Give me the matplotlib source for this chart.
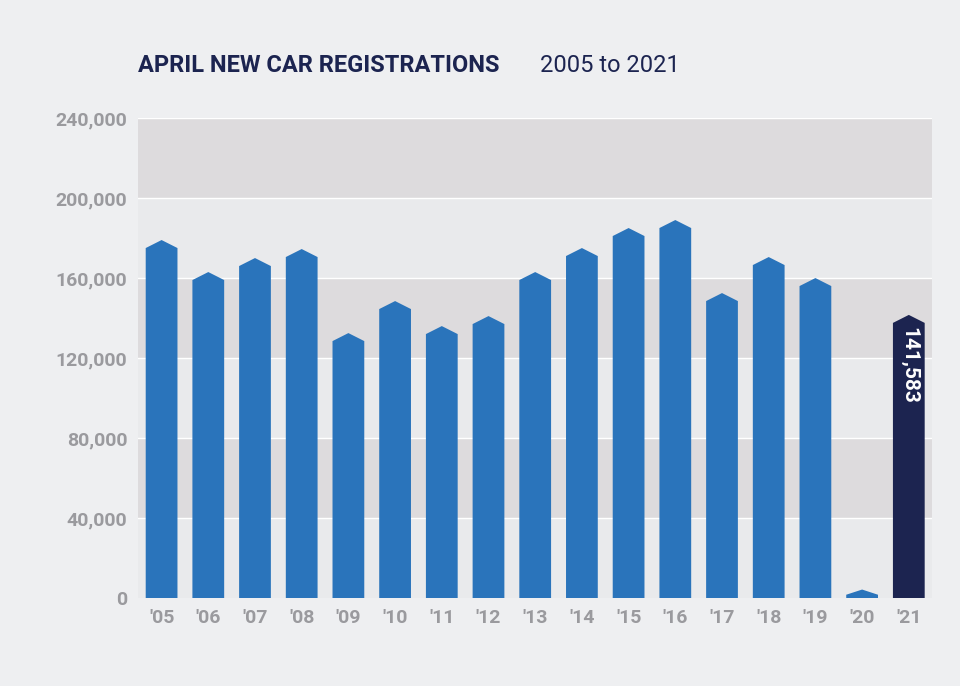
import matplotlib.pyplot as plt
import numpy as np

years = ["'05", "'06", "'07", "'08", "'09", "'10", "'11", "'12", "'13", "'14",
         "'15", "'16", "'17", "'18", "'19", "'20", "'21"]
regs = [179000, 163000, 170000, 174500, 132500, 148500, 136000, 141000, 163000,
        175000, 185000, 189000, 152500, 170500, 160000, 4321, 141583]

plt.rcParams['font.family'] = ['Roboto', 'DejaVu Sans']
fig = plt.figure(figsize=(9.6, 6.86), dpi=100, facecolor='#eeeff1')
ax = fig.add_axes([0.144, 0.128, 0.827, 0.70])
ax.set_facecolor('#eeeff1')

xmin, xmax = -0.5, len(years) - 0.5
for i, lo in enumerate(range(0, 240000, 40000)):
    ax.axhspan(lo, lo + 40000, color='#dddbdd' if i % 2 else '#e9eaec', lw=0, zorder=0)
    ax.axhline(lo + 40000, color='white', lw=1, zorder=0.5)

w = 0.34
for i, v in enumerate(regs):
    c = '#1c2450' if i == len(regs) - 1 else '#2a74bb'
    sh = max(v - 4000, v * 0.4)
    ax.fill([i - w, i - w, i, i + w, i + w], [0, sh, v, sh, 0], color=c, lw=0, zorder=2)

ax.text(len(regs) - 1, regs[-1] - 6000, f'{regs[-1]:,}', rotation=-90, ha='center', va='top',
        color='white', fontsize=15, fontweight='bold', zorder=3)

ax.set_xlim(xmin, xmax)
ax.set_ylim(0, 240000)
ax.set_xticks(range(len(years)))
ax.set_xticklabels(years)
ax.set_yticks(range(0, 240001, 40000))
ax.set_yticklabels([f'{t:,}' for t in range(0, 240001, 40000)])
ax.tick_params(length=0, labelsize=14, labelcolor='#9a9a9e', pad=8)
for lab in ax.get_xticklabels() + ax.get_yticklabels():
    lab.set_fontweight('bold')
for s in ax.spines.values():
    s.set_visible(False)

fig.text(0.144, 0.895, 'APRIL NEW CAR REGISTRATIONS', fontsize=17, fontweight='bold', color='#1c2450')
fig.text(0.562, 0.895, '2005 to 2021', fontsize=17, color='#1c2450')

fig.savefig('out.png', dpi=100, facecolor=fig.get_facecolor())
